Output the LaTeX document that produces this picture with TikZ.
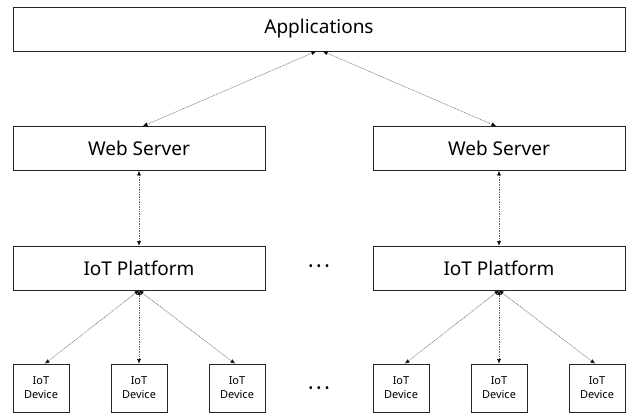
\documentclass[tikz,border=0pt]{standalone}
\usepackage{fontspec}
\setmainfont{Noto Sans}
\usetikzlibrary{arrows.meta}
\tikzset{
  box/.style={draw=black!85, line width=0.8pt, fill=white, inner sep=0pt},
  bigbox/.style={box, minimum width=252pt, minimum height=44pt, font=\fontsize{19}{21}\selectfont},
  devbox/.style={box, minimum width=56pt, minimum height=48pt, align=center, font=\fontsize{11}{14}\selectfont},
  link/.style={draw=black!60, line width=0.5pt, dash pattern=on 1pt off 0.7pt,
    {Latex[length=4.5pt,width=4pt,color=black]}-{Latex[length=4.5pt,width=4pt,color=black]}},
  dots/.style={font=\fontsize{12}{12}\selectfont, inner sep=0pt}
}
\begin{document}
\begin{tikzpicture}[x=1pt,y=-1pt]
\useasboundingbox (0,0) rectangle (629,413);
% nodes
\node[box, minimum width=612pt, minimum height=44pt, font=\fontsize{19}{21}\selectfont] (app) at (319,29) {Applications};
\node[bigbox] (ws1) at (139,148.5) {Web Server};
\node[bigbox] (ws2) at (499,148.5) {Web Server};
\node[bigbox] (iot1) at (139,268) {IoT Platform};
\node[bigbox] (iot2) at (499,268) {IoT Platform};
\node[devbox] (d1) at (41,388) {IoT\\Device};
\node[devbox] (d2) at (139,388) {IoT\\Device};
\node[devbox] (d3) at (237,388) {IoT\\Device};
\node[devbox] (d4) at (401,388) {IoT\\Device};
\node[devbox] (d5) at (499,388) {IoT\\Device};
\node[devbox] (d6) at (597,388) {IoT\\Device};
\node[dots] (e1) at (319,268) {•\hspace{3.5pt}•\hspace{3.5pt}•};
\node[dots] (e2) at (319,390) {•\hspace{3.5pt}•\hspace{3.5pt}•};
% connectors
\draw[link] ([xshift=-3pt]app.south) -- ([xshift=4pt]ws1.north);
\draw[link] ([xshift=4pt]app.south) -- ([xshift=-3pt]ws2.north);
\draw[link] (ws1.south) -- (iot1.north);
\draw[link] (ws2.south) -- (iot2.north);
\draw[link] (iot1.south) -- ([xshift=4pt]d1.north);
\draw[link] (iot1.south) -- (d2.north);
\draw[link] (iot1.south) -- ([xshift=-2pt]d3.north);
\draw[link] (iot2.south) -- ([xshift=4pt]d4.north);
\draw[link] (iot2.south) -- (d5.north);
\draw[link] (iot2.south) -- ([xshift=-2pt]d6.north);
\end{tikzpicture}
\end{document}
